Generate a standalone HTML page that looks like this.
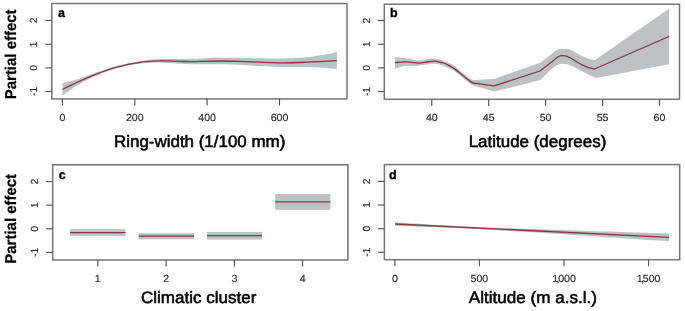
<!DOCTYPE html>
<html><head><meta charset="utf-8"><style>html,body{margin:0;padding:0;background:#fff;width:685px;height:311px;overflow:hidden}svg{display:block;will-change:transform;text-rendering:geometricPrecision;filter:blur(0.35px)}</style></head><body>
<svg width="685" height="311" viewBox="0 0 685 311">
<style>.tl{font-family:"Liberation Sans",sans-serif;font-size:10.3px;fill:#2a2a2a;stroke:#2a2a2a;stroke-width:0.15px} .ti{font-family:"Liberation Sans",sans-serif;font-size:16.6px;fill:#000;stroke:#000;stroke-width:0.55px} .yl{font-family:"Liberation Sans",sans-serif;font-size:15.7px;font-weight:bold;fill:#000;stroke:#000;stroke-width:0.2px} .pl{font-family:"Liberation Sans",sans-serif;font-size:12.5px;font-weight:bold;fill:#000;stroke:#000;stroke-width:0.35px}</style>
<path d="M62.60,83.26 C63.17,83.10 64.87,82.62 66.00,82.30 C67.13,81.98 68.27,81.66 69.40,81.34 C70.53,81.02 71.67,80.70 72.80,80.38 C73.93,80.06 75.07,79.75 76.20,79.42 C77.33,79.09 78.47,78.74 79.60,78.39 C80.73,78.04 81.87,77.69 83.00,77.32 C84.13,76.94 85.27,76.54 86.40,76.15 C87.53,75.76 88.67,75.37 89.80,74.96 C90.93,74.56 92.07,74.13 93.20,73.72 C94.33,73.30 95.47,72.86 96.60,72.45 C97.73,72.05 98.77,71.69 100.00,71.27 C101.23,70.85 102.34,70.47 104.00,69.93 C105.66,69.40 107.98,68.65 109.97,68.05 C111.96,67.45 113.95,66.89 115.94,66.35 C117.93,65.80 119.92,65.29 121.92,64.79 C123.91,64.30 125.90,63.83 127.89,63.39 C129.88,62.95 131.87,62.53 133.86,62.14 C135.85,61.75 137.84,61.39 139.83,61.07 C141.82,60.76 143.81,60.48 145.80,60.23 C147.79,59.98 149.78,59.76 151.77,59.59 C153.76,59.41 155.76,59.27 157.75,59.16 C159.74,59.05 161.73,58.97 163.72,58.93 C165.71,58.89 167.70,58.92 169.69,58.94 C171.68,58.96 173.67,59.03 175.66,59.06 C177.65,59.09 179.64,59.11 181.63,59.11 C183.62,59.10 185.61,59.09 187.61,59.05 C189.60,59.01 191.59,58.95 193.58,58.86 C195.57,58.77 197.56,58.61 199.55,58.50 C201.54,58.40 203.53,58.31 205.52,58.23 C207.51,58.15 209.50,58.10 211.49,58.04 C213.48,57.97 215.47,57.90 217.46,57.85 C219.45,57.80 221.45,57.73 223.44,57.72 C225.43,57.71 227.42,57.75 229.41,57.77 C231.40,57.79 233.39,57.80 235.38,57.83 C237.37,57.85 239.36,57.86 241.35,57.90 C243.34,57.94 245.33,58.01 247.32,58.06 C249.31,58.12 251.30,58.17 253.29,58.22 C255.29,58.27 257.28,58.34 259.27,58.37 C261.26,58.41 263.25,58.42 265.24,58.44 C267.23,58.46 269.22,58.48 271.21,58.49 C273.20,58.51 275.19,58.53 277.18,58.54 C279.17,58.56 281.16,58.62 283.15,58.58 C285.14,58.54 287.14,58.41 289.13,58.32 C291.12,58.23 293.11,58.13 295.10,58.04 C297.09,57.94 299.08,57.86 301.07,57.73 C303.06,57.60 305.05,57.47 307.04,57.26 C309.03,57.06 311.02,56.79 313.01,56.51 C315.00,56.24 316.99,55.94 318.98,55.62 C320.98,55.29 322.97,54.94 324.96,54.57 C326.95,54.20 328.94,53.81 330.93,53.40 C332.92,52.99 335.90,52.32 336.90,52.10 L336.90,69.30 C335.90,69.18 332.92,68.79 330.93,68.56 C328.94,68.34 326.95,68.13 324.96,67.95 C322.97,67.78 320.98,67.64 318.98,67.52 C316.99,67.40 315.00,67.31 313.01,67.24 C311.02,67.17 309.03,67.15 307.04,67.10 C305.05,67.05 303.06,66.99 301.07,66.96 C299.08,66.94 297.09,66.96 295.10,66.96 C293.11,66.97 291.12,66.98 289.13,66.99 C287.14,66.99 285.14,67.05 283.15,67.01 C281.16,66.96 279.17,66.83 277.18,66.74 C275.19,66.65 273.20,66.57 271.21,66.48 C269.22,66.40 267.23,66.31 265.24,66.23 C263.25,66.14 261.26,66.07 259.27,65.97 C257.28,65.87 255.29,65.75 253.29,65.64 C251.30,65.54 249.31,65.43 247.32,65.32 C245.33,65.22 243.34,65.10 241.35,65.01 C239.36,64.91 237.37,64.84 235.38,64.77 C233.39,64.69 231.40,64.63 229.41,64.56 C227.42,64.49 225.43,64.38 223.44,64.34 C221.45,64.30 219.45,64.32 217.46,64.32 C215.47,64.32 213.48,64.34 211.49,64.34 C209.50,64.35 207.51,64.37 205.52,64.37 C203.53,64.36 201.54,64.34 199.55,64.32 C197.56,64.31 195.57,64.33 193.58,64.28 C191.59,64.24 189.60,64.13 187.61,64.04 C185.61,63.95 183.62,63.86 181.63,63.75 C179.64,63.64 177.65,63.52 175.66,63.38 C173.67,63.25 171.68,63.07 169.69,62.94 C167.70,62.82 165.71,62.70 163.72,62.64 C161.73,62.58 159.74,62.57 157.75,62.58 C155.76,62.60 153.76,62.64 151.77,62.73 C149.78,62.82 147.79,62.94 145.80,63.10 C143.81,63.26 141.82,63.45 139.83,63.68 C137.84,63.91 135.85,64.18 133.86,64.49 C131.87,64.81 129.88,65.16 127.89,65.56 C125.90,65.97 123.91,66.42 121.92,66.91 C119.92,67.41 117.93,67.94 115.94,68.53 C113.95,69.11 111.96,69.76 109.97,70.43 C107.98,71.10 105.66,71.93 104.00,72.55 C102.34,73.16 101.23,73.64 100.00,74.13 C98.77,74.63 97.73,75.04 96.60,75.51 C95.47,75.98 94.33,76.44 93.20,76.94 C92.07,77.43 90.93,77.95 89.80,78.49 C88.67,79.03 87.53,79.59 86.40,80.17 C85.27,80.76 84.13,81.38 83.00,82.01 C81.87,82.65 80.73,83.30 79.60,83.98 C78.47,84.66 77.33,85.37 76.20,86.10 C75.07,86.82 73.93,87.58 72.80,88.34 C71.67,89.09 70.53,89.86 69.40,90.63 C68.27,91.41 67.13,92.19 66.00,92.98 C64.87,93.77 63.17,94.96 62.60,95.36 Z" fill="#bcc1c3"/>
<path d="M395.00,56.90 C396.60,57.13 401.77,57.88 404.60,58.30 C407.43,58.72 409.43,59.05 412.00,59.40 C414.57,59.75 417.50,60.43 420.00,60.40 C422.50,60.37 424.67,59.50 427.00,59.20 C429.33,58.90 431.67,58.48 434.00,58.60 C436.33,58.72 438.33,59.10 441.00,59.90 C443.67,60.70 447.62,62.25 450.00,63.40 C452.38,64.55 453.57,65.55 455.30,66.80 C457.03,68.05 458.68,69.50 460.40,70.90 C462.12,72.30 463.88,73.85 465.60,75.20 C467.32,76.55 469.33,78.18 470.70,79.00 C472.07,79.82 473.28,79.92 473.80,80.10 L473.80,80.10 L494.00,79.00 L494.00,79.00 L540.30,62.70 L540.30,62.70 C542.25,61.17 549.22,55.62 552.00,53.50 C554.78,51.38 555.33,50.75 557.00,50.00 C558.67,49.25 560.33,49.15 562.00,49.00 C563.67,48.85 565.33,48.85 567.00,49.10 C568.67,49.35 570.17,49.72 572.00,50.50 C573.83,51.28 576.00,52.72 578.00,53.80 C580.00,54.88 582.00,56.10 584.00,57.00 C586.00,57.90 588.17,58.68 590.00,59.20 C591.83,59.72 594.17,59.95 595.00,60.10 L595.00,60.10 L669.00,8.70 L669.00,64.20 L596.00,77.90 L596.00,77.90 C595.17,77.53 592.67,76.47 591.00,75.70 C589.33,74.93 587.83,74.20 586.00,73.30 C584.17,72.40 582.00,71.35 580.00,70.30 C578.00,69.25 576.00,67.98 574.00,67.00 C572.00,66.02 570.00,64.93 568.00,64.40 C566.00,63.87 564.00,63.58 562.00,63.80 C560.00,64.02 558.00,64.58 556.00,65.70 C554.00,66.82 552.57,68.12 550.00,70.50 C547.43,72.88 542.17,78.42 540.60,80.00 L540.60,80.00 L494.50,91.50 L494.50,91.50 L473.80,85.80 L473.80,86.00 C473.28,85.68 472.07,85.08 470.70,84.10 C469.33,83.12 467.32,81.48 465.60,80.10 C463.88,78.72 462.12,77.18 460.40,75.80 C458.68,74.42 457.03,73.00 455.30,71.80 C453.57,70.60 452.38,69.75 450.00,68.60 C447.62,67.45 443.67,65.70 441.00,64.90 C438.33,64.10 436.33,63.85 434.00,63.80 C431.67,63.75 429.33,64.30 427.00,64.60 C424.67,64.90 422.50,65.38 420.00,65.60 C417.50,65.82 414.57,65.85 412.00,65.90 C409.43,65.95 407.43,65.42 404.60,65.90 C401.77,66.38 396.60,68.32 395.00,68.80 Z" fill="#bcc1c3"/>
<rect x="69.9" y="229.2" width="55.5" height="6.600000000000023" fill="#bcc1c3"/>
<rect x="138.7" y="233.2" width="55.400000000000006" height="6.100000000000023" fill="#bcc1c3"/>
<rect x="206.9" y="231.9" width="55.099999999999994" height="7.599999999999994" fill="#bcc1c3"/>
<rect x="275.2" y="194.0" width="55.19999999999999" height="15.800000000000011" fill="#bcc1c3"/>
<path d="M395.10,222.30 C396.24,222.37 399.67,222.59 401.95,222.73 C404.23,222.88 406.51,223.02 408.80,223.16 C411.08,223.30 413.36,223.44 415.64,223.58 C417.93,223.72 420.21,223.86 422.49,223.99 C424.77,224.13 427.06,224.27 429.34,224.40 C431.62,224.53 433.90,224.67 436.19,224.80 C438.47,224.93 440.75,225.06 443.03,225.19 C445.32,225.31 447.60,225.44 449.88,225.56 C452.16,225.69 454.44,225.81 456.73,225.93 C459.01,226.05 461.29,226.16 463.58,226.28 C465.86,226.39 468.14,226.50 470.42,226.61 C472.70,226.72 474.99,226.83 477.27,226.93 C479.55,227.04 481.83,227.14 484.12,227.24 C486.40,227.34 488.68,227.44 490.97,227.53 C493.25,227.63 495.53,227.72 497.81,227.81 C500.10,227.91 502.38,228.00 504.66,228.09 C506.94,228.17 509.23,228.26 511.51,228.35 C513.79,228.43 516.07,228.52 518.36,228.60 C520.64,228.69 522.92,228.77 525.20,228.85 C527.49,228.94 529.77,229.02 532.05,229.10 C534.33,229.18 536.62,229.26 538.90,229.34 C541.18,229.42 543.46,229.50 545.75,229.57 C548.03,229.65 550.31,229.73 552.59,229.81 C554.88,229.88 557.16,229.96 559.44,230.04 C561.72,230.11 564.00,230.19 566.29,230.26 C568.57,230.34 570.85,230.42 573.13,230.49 C575.42,230.57 577.70,230.64 579.98,230.72 C582.27,230.79 584.55,230.86 586.83,230.94 C589.11,231.01 591.39,231.09 593.68,231.16 C595.96,231.23 598.24,231.31 600.53,231.38 C602.81,231.45 605.09,231.53 607.37,231.60 C609.65,231.67 611.94,231.75 614.22,231.82 C616.50,231.89 618.78,231.97 621.07,232.04 C623.35,232.11 625.63,232.18 627.91,232.26 C630.20,232.33 632.48,232.40 634.76,232.47 C637.05,232.54 639.33,232.62 641.61,232.69 C643.89,232.76 646.17,232.83 648.46,232.90 C650.74,232.98 653.02,233.05 655.31,233.12 C657.59,233.19 659.87,233.26 662.15,233.34 C664.43,233.41 667.86,233.51 669.00,233.55 L669.00,241.25 C667.86,241.17 664.43,240.95 662.15,240.79 C659.87,240.64 657.59,240.49 655.31,240.34 C653.02,240.19 650.74,240.04 648.46,239.89 C646.17,239.73 643.89,239.58 641.61,239.43 C639.33,239.28 637.05,239.13 634.76,238.98 C632.48,238.83 630.20,238.68 627.91,238.52 C625.63,238.37 623.35,238.22 621.07,238.07 C618.78,237.92 616.50,237.77 614.22,237.62 C611.94,237.47 609.65,237.32 607.37,237.17 C605.09,237.02 602.81,236.87 600.53,236.72 C598.24,236.57 595.96,236.42 593.68,236.27 C591.39,236.12 589.11,235.97 586.83,235.82 C584.55,235.67 582.27,235.52 579.98,235.37 C577.70,235.23 575.42,235.08 573.13,234.93 C570.85,234.78 568.57,234.63 566.29,234.49 C564.00,234.34 561.72,234.19 559.44,234.04 C557.16,233.90 554.88,233.75 552.59,233.60 C550.31,233.46 548.03,233.31 545.75,233.17 C543.46,233.02 541.18,232.88 538.90,232.73 C536.62,232.59 534.33,232.45 532.05,232.30 C529.77,232.16 527.49,232.02 525.20,231.88 C522.92,231.74 520.64,231.60 518.36,231.46 C516.07,231.32 513.79,231.18 511.51,231.04 C509.23,230.90 506.94,230.77 504.66,230.63 C502.38,230.50 500.10,230.37 497.81,230.24 C495.53,230.11 493.25,229.98 490.97,229.85 C488.68,229.72 486.40,229.60 484.12,229.47 C481.83,229.35 479.55,229.23 477.27,229.11 C474.99,228.99 472.70,228.87 470.42,228.76 C468.14,228.65 465.86,228.53 463.58,228.42 C461.29,228.31 459.01,228.21 456.73,228.10 C454.44,228.00 452.16,227.90 449.88,227.80 C447.60,227.70 445.32,227.60 443.03,227.50 C440.75,227.41 438.47,227.31 436.19,227.22 C433.90,227.13 431.62,227.04 429.34,226.95 C427.06,226.86 424.77,226.77 422.49,226.69 C420.21,226.60 417.93,226.52 415.64,226.43 C413.36,226.35 411.08,226.26 408.80,226.18 C406.51,226.10 404.23,226.02 401.95,225.94 C399.67,225.86 396.24,225.74 395.10,225.70 Z" fill="#bcc1c3"/>
<path d="M62.60,89.31 C63.50,88.87 66.10,87.58 68.00,86.66 C69.90,85.74 72.00,84.72 74.00,83.78 C76.00,82.84 78.00,81.91 80.00,81.00 C82.00,80.09 84.00,79.20 86.00,78.33 C88.00,77.46 90.00,76.62 92.00,75.80 C94.00,74.98 96.00,74.19 98.00,73.43 C100.00,72.67 102.00,71.94 104.00,71.24 C106.00,70.54 108.00,69.87 110.00,69.23 C112.00,68.59 114.00,67.99 116.00,67.42 C118.00,66.85 120.00,66.33 122.00,65.83 C124.00,65.33 126.00,64.87 128.00,64.45 C130.00,64.03 132.00,63.64 134.00,63.29 C136.00,62.94 138.00,62.62 140.00,62.35 C142.00,62.08 144.00,61.84 146.00,61.64 C148.00,61.44 150.00,61.27 152.00,61.14 C154.00,61.01 156.00,60.92 158.00,60.86 C160.00,60.80 162.00,60.77 164.00,60.78 C166.00,60.80 168.17,60.88 170.00,60.95 C171.83,61.02 172.70,61.11 175.00,61.20 C177.30,61.29 180.88,61.43 183.80,61.50 C186.72,61.57 189.80,61.62 192.50,61.60 C195.20,61.58 195.08,61.50 200.00,61.40 C204.92,61.30 215.33,61.00 222.00,61.00 C228.67,61.00 233.67,61.20 240.00,61.40 C246.33,61.60 252.77,61.97 260.00,62.20 C267.23,62.43 275.62,62.80 283.40,62.80 C291.18,62.80 299.90,62.45 306.70,62.20 C313.50,61.95 319.17,61.55 324.20,61.30 C329.23,61.05 334.78,60.80 336.90,60.70" fill="none" stroke="#8a3444" stroke-width="1.3"/>
<path d="M395.00,62.70 C396.60,62.57 401.93,61.97 404.60,61.90 C407.27,61.83 408.55,62.10 411.00,62.30 C413.45,62.50 416.62,63.15 419.30,63.10 C421.98,63.05 424.62,62.32 427.10,62.00 C429.58,61.68 431.85,61.12 434.20,61.20 C436.55,61.28 439.40,62.12 441.20,62.50 C443.00,62.88 443.52,62.90 445.00,63.50 C446.48,64.10 448.38,65.12 450.10,66.10 C451.82,67.08 453.58,68.18 455.30,69.40 C457.02,70.62 458.68,72.02 460.40,73.40 C462.12,74.78 463.88,76.33 465.60,77.70 C467.32,79.07 469.33,80.67 470.70,81.60 C472.07,82.53 473.28,83.02 473.80,83.30 L473.80,83.20 L494.20,85.80 L494.20,85.80 L540.00,71.00 L540.00,71.00 C542.00,69.47 549.27,63.97 552.00,61.80 C554.73,59.63 555.02,58.98 556.40,58.00 C557.78,57.02 558.80,56.25 560.30,55.90 C561.80,55.55 563.68,55.55 565.40,55.90 C567.12,56.25 568.88,57.12 570.60,58.00 C572.32,58.88 573.78,60.05 575.70,61.20 C577.62,62.35 579.95,63.83 582.10,64.90 C584.25,65.97 586.53,66.92 588.60,67.60 C590.67,68.28 593.52,68.77 594.50,69.00 L594.50,69.00 L669.00,36.50" fill="none" stroke="#8a3444" stroke-width="1.3" stroke-linejoin="round"/>
<line x1="69.9" y1="232.6" x2="125.4" y2="232.6" stroke="#8a3444" stroke-width="1.3"/>
<line x1="138.7" y1="236.2" x2="194.1" y2="236.2" stroke="#8a3444" stroke-width="1.3"/>
<line x1="206.9" y1="235.7" x2="262.0" y2="235.7" stroke="#8a3444" stroke-width="1.3"/>
<line x1="275.2" y1="201.9" x2="330.4" y2="201.9" stroke="#8a3444" stroke-width="1.3"/>
<line x1="395.1" y1="224.00" x2="669.0" y2="237.40" stroke="#8a3444" stroke-width="1.3"/>
<rect x="51.8" y="3.5" width="295.2" height="95.4" fill="none" stroke="#767676" stroke-width="1.5"/>
<rect x="384.3" y="4.2" width="295.2" height="95.1" fill="none" stroke="#767676" stroke-width="1.5"/>
<rect x="52.7" y="164.75" width="295.2" height="95.25" fill="none" stroke="#767676" stroke-width="1.5"/>
<rect x="384.4" y="164.6" width="295.30000000000007" height="95.1" fill="none" stroke="#767676" stroke-width="1.5"/>
<line x1="45.3" y1="20.4" x2="51.8" y2="20.4" stroke="#4a4a4a" stroke-width="1.1"/>
<text class="tl" transform="translate(37.0,20.4) rotate(-90)" text-anchor="middle">2</text>
<line x1="45.3" y1="44.3" x2="51.8" y2="44.3" stroke="#4a4a4a" stroke-width="1.1"/>
<text class="tl" transform="translate(37.0,44.3) rotate(-90)" text-anchor="middle">1</text>
<line x1="45.3" y1="67.9" x2="51.8" y2="67.9" stroke="#4a4a4a" stroke-width="1.1"/>
<text class="tl" transform="translate(37.0,67.9) rotate(-90)" text-anchor="middle">0</text>
<line x1="45.3" y1="91.4" x2="51.8" y2="91.4" stroke="#4a4a4a" stroke-width="1.1"/>
<text class="tl" transform="translate(37.0,91.4) rotate(-90)" text-anchor="middle">-1</text>
<line x1="377.8" y1="20.6" x2="384.3" y2="20.6" stroke="#4a4a4a" stroke-width="1.1"/>
<text class="tl" transform="translate(369.8,20.6) rotate(-90)" text-anchor="middle">2</text>
<line x1="377.8" y1="44.2" x2="384.3" y2="44.2" stroke="#4a4a4a" stroke-width="1.1"/>
<text class="tl" transform="translate(369.8,44.2) rotate(-90)" text-anchor="middle">1</text>
<line x1="377.8" y1="67.9" x2="384.3" y2="67.9" stroke="#4a4a4a" stroke-width="1.1"/>
<text class="tl" transform="translate(369.8,67.9) rotate(-90)" text-anchor="middle">0</text>
<line x1="377.8" y1="91.5" x2="384.3" y2="91.5" stroke="#4a4a4a" stroke-width="1.1"/>
<text class="tl" transform="translate(369.8,91.5) rotate(-90)" text-anchor="middle">-1</text>
<line x1="46.2" y1="181.6" x2="52.7" y2="181.6" stroke="#4a4a4a" stroke-width="1.1"/>
<text class="tl" transform="translate(37.8,181.6) rotate(-90)" text-anchor="middle">2</text>
<line x1="46.2" y1="205.2" x2="52.7" y2="205.2" stroke="#4a4a4a" stroke-width="1.1"/>
<text class="tl" transform="translate(37.8,205.2) rotate(-90)" text-anchor="middle">1</text>
<line x1="46.2" y1="228.8" x2="52.7" y2="228.8" stroke="#4a4a4a" stroke-width="1.1"/>
<text class="tl" transform="translate(37.8,228.8) rotate(-90)" text-anchor="middle">0</text>
<line x1="46.2" y1="252.4" x2="52.7" y2="252.4" stroke="#4a4a4a" stroke-width="1.1"/>
<text class="tl" transform="translate(37.8,252.4) rotate(-90)" text-anchor="middle">-1</text>
<line x1="377.9" y1="181.3" x2="384.4" y2="181.3" stroke="#4a4a4a" stroke-width="1.1"/>
<text class="tl" transform="translate(369.9,181.3) rotate(-90)" text-anchor="middle">2</text>
<line x1="377.9" y1="205.0" x2="384.4" y2="205.0" stroke="#4a4a4a" stroke-width="1.1"/>
<text class="tl" transform="translate(369.9,205.0) rotate(-90)" text-anchor="middle">1</text>
<line x1="377.9" y1="228.7" x2="384.4" y2="228.7" stroke="#4a4a4a" stroke-width="1.1"/>
<text class="tl" transform="translate(369.9,228.7) rotate(-90)" text-anchor="middle">0</text>
<line x1="377.9" y1="252.2" x2="384.4" y2="252.2" stroke="#4a4a4a" stroke-width="1.1"/>
<text class="tl" transform="translate(369.9,252.2) rotate(-90)" text-anchor="middle">-1</text>
<line x1="62.4" y1="98.9" x2="62.4" y2="105.5" stroke="#4a4a4a" stroke-width="1.1"/>
<text class="tl" transform="translate(62.4,121.0) scale(1.03,1.0)" text-anchor="middle">0</text>
<line x1="134.8" y1="98.9" x2="134.8" y2="105.5" stroke="#4a4a4a" stroke-width="1.1"/>
<text class="tl" transform="translate(134.8,121.0) scale(1.03,1.0)" text-anchor="middle">200</text>
<line x1="207.1" y1="98.9" x2="207.1" y2="105.5" stroke="#4a4a4a" stroke-width="1.1"/>
<text class="tl" transform="translate(207.1,121.0) scale(1.03,1.0)" text-anchor="middle">400</text>
<line x1="279.5" y1="98.9" x2="279.5" y2="105.5" stroke="#4a4a4a" stroke-width="1.1"/>
<text class="tl" transform="translate(279.5,121.0) scale(1.03,1.0)" text-anchor="middle">600</text>
<line x1="431.8" y1="99.3" x2="431.8" y2="105.89999999999999" stroke="#4a4a4a" stroke-width="1.1"/>
<text class="tl" transform="translate(431.8,121.2) scale(1.03,1.0)" text-anchor="middle">40</text>
<line x1="488.7" y1="99.3" x2="488.7" y2="105.89999999999999" stroke="#4a4a4a" stroke-width="1.1"/>
<text class="tl" transform="translate(488.7,121.2) scale(1.03,1.0)" text-anchor="middle">45</text>
<line x1="545.6" y1="99.3" x2="545.6" y2="105.89999999999999" stroke="#4a4a4a" stroke-width="1.1"/>
<text class="tl" transform="translate(545.6,121.2) scale(1.03,1.0)" text-anchor="middle">50</text>
<line x1="602.6" y1="99.3" x2="602.6" y2="105.89999999999999" stroke="#4a4a4a" stroke-width="1.1"/>
<text class="tl" transform="translate(602.6,121.2) scale(1.03,1.0)" text-anchor="middle">55</text>
<line x1="659.5" y1="99.3" x2="659.5" y2="105.89999999999999" stroke="#4a4a4a" stroke-width="1.1"/>
<text class="tl" transform="translate(659.5,121.2) scale(1.03,1.0)" text-anchor="middle">60</text>
<line x1="97.8" y1="260.0" x2="97.8" y2="266.6" stroke="#4a4a4a" stroke-width="1.1"/>
<text class="tl" transform="translate(97.8,282.3) scale(1.03,1.0)" text-anchor="middle">1</text>
<line x1="166.1" y1="260.0" x2="166.1" y2="266.6" stroke="#4a4a4a" stroke-width="1.1"/>
<text class="tl" transform="translate(166.1,282.3) scale(1.03,1.0)" text-anchor="middle">2</text>
<line x1="234.4" y1="260.0" x2="234.4" y2="266.6" stroke="#4a4a4a" stroke-width="1.1"/>
<text class="tl" transform="translate(234.4,282.3) scale(1.03,1.0)" text-anchor="middle">3</text>
<line x1="302.6" y1="260.0" x2="302.6" y2="266.6" stroke="#4a4a4a" stroke-width="1.1"/>
<text class="tl" transform="translate(302.6,282.3) scale(1.03,1.0)" text-anchor="middle">4</text>
<line x1="394.9" y1="259.7" x2="394.9" y2="266.3" stroke="#4a4a4a" stroke-width="1.1"/>
<text class="tl" transform="translate(394.9,282.3) scale(1.03,1.0)" text-anchor="middle">0</text>
<line x1="479.4" y1="259.7" x2="479.4" y2="266.3" stroke="#4a4a4a" stroke-width="1.1"/>
<text class="tl" transform="translate(479.4,282.3) scale(1.03,1.0)" text-anchor="middle">500</text>
<line x1="564.0" y1="259.7" x2="564.0" y2="266.3" stroke="#4a4a4a" stroke-width="1.1"/>
<text class="tl" transform="translate(564.0,282.3) scale(1.03,1.0)" text-anchor="middle">1<tspan dx="-1.5">,</tspan><tspan dx="-1.3">000</tspan></text>
<line x1="648.6" y1="259.7" x2="648.6" y2="266.3" stroke="#4a4a4a" stroke-width="1.1"/>
<text class="tl" transform="translate(648.6,282.3) scale(1.03,1.0)" text-anchor="middle">1<tspan dx="-1.5">,</tspan><tspan dx="-1.3">500</tspan></text>
<text class="ti" x="199.65" y="147.4" text-anchor="middle" textLength="171.3" lengthAdjust="spacingAndGlyphs">Ring-width (1/100 mm)</text>
<text class="ti" x="537.5" y="147.4" text-anchor="middle" textLength="137.59999999999997" lengthAdjust="spacingAndGlyphs">Latitude (degrees)</text>
<text class="ti" x="198.7" y="303.0" text-anchor="middle" textLength="115.39999999999998" lengthAdjust="spacingAndGlyphs">Climatic cluster</text>
<text class="ti" x="532.9" y="303.0" text-anchor="middle" textLength="128.2" lengthAdjust="spacingAndGlyphs">Altitude (m a.s.l.)</text>
<text class="yl" transform="translate(15.8,54.35) rotate(-90)" text-anchor="middle" textLength="89.7" lengthAdjust="spacingAndGlyphs">Partial effect</text>
<text class="yl" transform="translate(15.8,218.8) rotate(-90)" text-anchor="middle" textLength="89.79999999999998" lengthAdjust="spacingAndGlyphs">Partial effect</text>
<text class="pl" x="58" y="16.8">a</text>
<text class="pl" x="389.9" y="16.6">b</text>
<text class="pl" x="58.7" y="178.7">c</text>
<text class="pl" x="389.0" y="179.0">d</text>
</svg>
</body></html>
